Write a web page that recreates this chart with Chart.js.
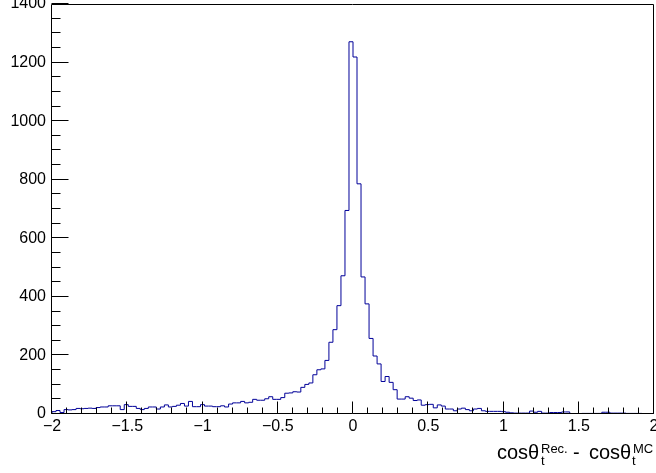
<!DOCTYPE html>
<html>
<head>
<meta charset="utf-8">
<script src="https://cdn.jsdelivr.net/npm/chart.js@4.4.1/dist/chart.umd.min.js"></script>
<style>
  html, body { margin: 0; padding: 0; background: #fff; }
  #wrap { width: 656px; height: 473px; position: relative; }
</style>
</head>
<body>
<div id="wrap"><canvas id="c"></canvas></div>
<script>
// histogram: 150 bins from -2 to 2
var xMin = -2, xMax = 2;
var counts = [
  8, 12, 5, 15, 14, 15, 19, 18, 19, 20,
  19, 22, 24, 24, 28, 28, 28, 15, 32, 26,
  26, 19, 15, 19, 24, 24, 17, 24, 31, 24,
  26, 30, 36, 27, 43, 25, 25, 32, 27, 27,
  25, 25, 28, 24, 34, 38, 38, 43, 38, 40,
  50, 47, 47, 52, 59, 50, 50, 56, 71, 72,
  76, 75, 91, 101, 106, 134, 151, 154, 183, 245,
  288, 370, 472, 695, 1271, 1219, 786, 468, 376, 258,
  198, 171, 111, 128, 108, 83, 51, 51, 59, 54,
  46, 48, 30, 32, 33, 21, 31, 27, 17, 17,
  11, 17, 20, 15, 11, 17, 19, 11, 9, 9,
  9, 9, 8, 6, 4, 3, 3, 3, 3, 10,
  6, 9, 3, 3, 5, 5, 5, 7, 7, 1,
  1, 1, 2, 2, 2, 2, 2, 6, 6, 3,
  3, 3, 3, 2, 2, 2, 2, 1, 1, 1
];
var xTicks = [-2, -1.5, -1, -0.5, 0, 0.5, 1, 1.5, 2];
var yTicks = [0, 200, 400, 600, 800, 1000, 1200, 1400];
var xMinorPerMajor = 5, yMinorPerMajor = 4;

var binWidth = (xMax - xMin) / counts.length;
var points = [{ x: xMin, y: 0 }];
counts.forEach(function(c, i) {
  points.push({ x: xMin + i * binWidth, y: c });
});
points.push({ x: xMax, y: counts[counts.length - 1] });
points.push({ x: xMax, y: 0 });

var fontFam = '"Liberation Sans", Arial, Helvetica, sans-serif';

function fmt(v) {
  return v < 0 ? '\u2212' + Math.abs(v) : String(v);
}

// ROOT style frame + inner ticks, and the x title with sub/superscripts
var rootFrame = {
  id: 'rootFrame',
  afterDatasetsDraw: function(chart) {
    var ctx = chart.ctx, a = chart.chartArea;
    var xs = chart.scales.x, ys = chart.scales.y;
    ctx.save();
    ctx.strokeStyle = '#000';
    ctx.lineWidth = 1;
    ctx.beginPath();
    var L = Math.round(a.left) - 0.5, R = Math.round(a.right) - 0.5;
    var T = Math.round(a.top) + 0.5, B = Math.round(a.bottom) - 0.5;
    ctx.moveTo(L, T); ctx.lineTo(R, T); ctx.lineTo(R, B); ctx.lineTo(L, B); ctx.closePath();
    // x ticks
    var nx = (xTicks.length - 1) * xMinorPerMajor;
    for (var i = 0; i <= nx; i++) {
      var v = xTicks[0] + (xTicks[xTicks.length - 1] - xTicks[0]) * i / nx;
      var px = Math.round(xs.getPixelForValue(v)) - 0.5;
      var len = (i % xMinorPerMajor === 0) ? 12 : 6;
      ctx.moveTo(px, B); ctx.lineTo(px, B - len);
    }
    // y ticks
    var ny = (yTicks.length - 1) * yMinorPerMajor;
    for (var j = 0; j <= ny; j++) {
      var w = yTicks[0] + (yTicks[yTicks.length - 1] - yTicks[0]) * j / ny;
      var py = Math.round(ys.getPixelForValue(w)) - 0.5;
      var ylen = (j % yMinorPerMajor === 0) ? 17 : 9;
      ctx.moveTo(L, py); ctx.lineTo(L + ylen, py);
    }
    ctx.stroke();

    // x axis title: cos\theta_t^{Rec.} - cos\theta_t^{MC}
    ctx.fillStyle = '#000';
    ctx.textBaseline = 'alphabetic';
    ctx.textAlign = 'left';
    var big = '20px ' + fontFam, small = '13px ' + fontFam;
    ctx.font = big;
    ctx.fillText('cos\u03b8', 497, 459);
    ctx.fillText('-', 573, 459);
    ctx.fillText('cos\u03b8', 589, 459);
    ctx.font = small;
    ctx.fillText('t', 541, 465);
    ctx.fillText('Rec.', 541, 452.5);
    ctx.fillText('t', 632, 465);
    ctx.fillText('MC', 633, 452.5);
    ctx.restore();
  }
};

new Chart(document.getElementById('c'), {
  type: 'line',
  data: {
    datasets: [{
      data: points,
      stepped: 'before',
      borderColor: '#000099',
      borderWidth: 1,
      pointRadius: 0,
      fill: false,
      tension: 0
    }]
  },
  options: {
    responsive: true,
    maintainAspectRatio: false,
    animation: false,
    layout: { padding: { top: 4, right: 2, left: 0, bottom: 0 } },
    plugins: { legend: { display: false }, tooltip: { enabled: false } },
    scales: {
      x: {
        type: 'linear',
        min: xMin, max: xMax,
        grid: { display: false, drawTicks: false },
        border: { display: false },
        afterBuildTicks: function(s) { s.ticks = xTicks.map(function(v) { return { value: v }; }); },
        afterFit: function(s) { s.height = 59; s.paddingLeft = 0; s.paddingRight = 0; },
        ticks: {
          autoSkip: false, maxRotation: 0, padding: 3,
          color: '#000', font: { family: fontFam, size: 16 },
          callback: function(v) { return fmt(v); }
        }
      },
      y: {
        min: 0, max: 1400,
        grid: { display: false, drawTicks: false },
        border: { display: false },
        afterBuildTicks: function(s) { s.ticks = yTicks.map(function(v) { return { value: v }; }); },
        afterFit: function(s) { s.width = 52; s.paddingTop = 0; s.paddingBottom = 0; },
        ticks: {
          autoSkip: false, padding: 6,
          color: '#000', font: { family: fontFam, size: 16 },
          callback: function(v) { return fmt(v); }
        }
      }
    }
  },
  plugins: [rootFrame]
});
</script>
</body>
</html>
